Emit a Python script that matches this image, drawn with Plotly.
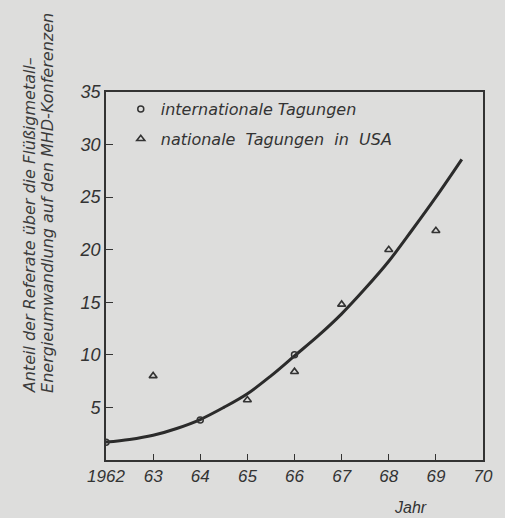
import plotly.graph_objects as go

# Data
int_years = [1962, 1964, 1966]
int_vals = [1.7, 3.8, 10.0]

nat_years = [1963, 1965, 1966, 1967, 1968, 1969]
nat_vals = [8.0, 5.7, 8.4, 14.8, 20.0, 21.8]

curve_years = [1962, 1962.5, 1963, 1963.5, 1964, 1964.5, 1965, 1965.5,
               1966, 1966.5, 1967, 1967.5, 1968, 1968.5, 1969, 1969.55]
curve_vals = [1.7, 1.95, 2.35, 3.0, 3.85, 5.0, 6.3, 8.0,
              9.9, 11.8, 13.9, 16.3, 18.9, 21.9, 25.0, 28.6]

x_tickvals = [1962, 1963, 1964, 1965, 1966, 1967, 1968, 1969, 1970]
x_ticktext = ["1962", "63", "64", "65", "66", "67", "68", "69", "70"]
y_tickvals = [5, 10, 15, 20, 25, 30, 35]

ink = "#333333"
bg = "#dddddc"
fam = "Liberation Sans"
fam2 = "DejaVu Sans"

fig = go.Figure()
fig.add_trace(go.Scatter(
    x=curve_years, y=curve_vals, mode="lines", line_shape="spline",
    line=dict(color="#2b2b2b", width=3), showlegend=False, hoverinfo="skip"))
fig.add_trace(go.Scatter(
    x=int_years, y=int_vals, mode="markers", name="internationale Tagungen",
    legendgroup="a",
    marker=dict(symbol="circle-open", size=6, color=ink, line=dict(width=1.5, color=ink))))
fig.add_trace(go.Scatter(
    x=nat_years, y=nat_vals, mode="markers", name="nationale  Tagungen  in  USA",
    legendgroup="b",
    marker=dict(symbol="triangle-up-open", size=7, color=ink, line=dict(width=1.6, color=ink))))

fig.update_layout(
    width=505, height=518,
    margin=dict(l=106, r=16, t=92, b=58),
    paper_bgcolor=bg, plot_bgcolor=bg,
    font=dict(family=fam, color=ink, style="italic"),
    legend=dict(x=15/383, y=1.0, xanchor="left", yanchor="top",
                bgcolor="rgba(0,0,0,0)", font=dict(size=16, color=ink, family=fam2, style="italic"),
                tracegroupgap=6, traceorder="grouped"),
    xaxis=dict(range=[1962, 1970], tickvals=x_tickvals, ticktext=x_ticktext,
               ticks="inside", ticklen=6, tickwidth=1.3, tickcolor=ink,
               showline=True, linecolor=ink, linewidth=1.6, mirror=True,
               showgrid=False, zeroline=False,
               tickfont=dict(size=17, color=ink, style="italic")),
    yaxis=dict(range=[0, 35], tickvals=y_tickvals,
               ticks="inside", ticklen=7, tickwidth=1.3, tickcolor=ink,
               showline=True, linecolor=ink, linewidth=1.6, mirror=True,
               showgrid=False, zeroline=False,
               tickfont=dict(size=18, color=ink, style="italic")),
    showlegend=True,
)

fig.add_annotation(text="Anteil der Referate über die Flüßigmetall–",
                   xref="paper", yref="paper", x=-106/383 + 28/383, y=(460-395)/368,
                   xanchor="center", yanchor="bottom", textangle=-90, showarrow=False,
                   font=dict(size=16, color="#3a3a3a", family=fam2, style="italic"))
fig.add_annotation(text="Energieumwandlung auf den MHD-Konferenzen",
                   xref="paper", yref="paper", x=-106/383 + 46/383, y=(460-395)/368,
                   xanchor="center", yanchor="bottom", textangle=-90, showarrow=False,
                   font=dict(size=16, color="#3a3a3a", family=fam2, style="italic"))
fig.add_annotation(text="Jahr", xref="paper", yref="paper",
                   x=(415-106)/383, y=-(508-460)/368, xanchor="center", yanchor="middle",
                   showarrow=False, font=dict(size=16, color=ink, family=fam, style="italic"))

fig.write_html("out.html", config={"displayModeBar": False},
               post_script="document.body.style.margin='0';document.body.style.background='#dddddc';")
